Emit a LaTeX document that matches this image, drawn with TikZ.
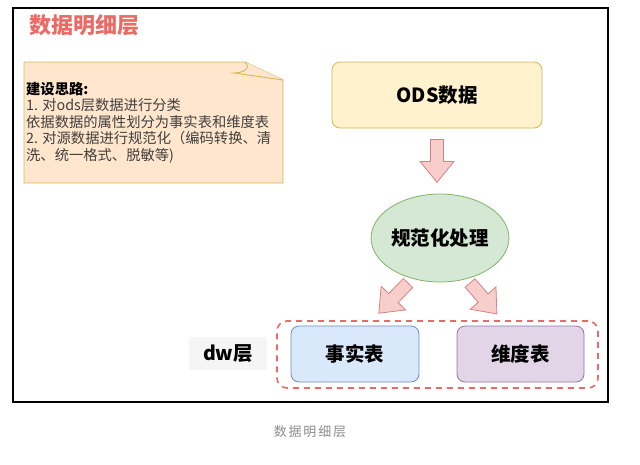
\documentclass[tikz,border=0pt]{standalone}
\usepackage{fontspec}
\setmainfont{Noto Sans CJK SC}
\newfontfamily\capfont[LetterSpace=14]{Noto Sans CJK SC}
\usetikzlibrary{shapes.geometric,calc}
\definecolor{titlered}{RGB}{234,107,102}
\definecolor{notefill}{RGB}{255,230,204}
\definecolor{notedraw}{RGB}{214,182,86}
\definecolor{odsfill}{RGB}{255,242,204}
\definecolor{normfill}{RGB}{213,232,212}
\definecolor{normdraw}{RGB}{130,179,102}
\definecolor{factfill}{RGB}{218,232,252}
\definecolor{factdraw}{RGB}{108,142,191}
\definecolor{dimfill}{RGB}{225,213,231}
\definecolor{dimdraw}{RGB}{150,115,166}
\definecolor{arrowfill}{RGB}{248,206,204}
\definecolor{arrowdraw}{RGB}{212,132,130}
\begin{document}
\begin{tikzpicture}[x=1pt, y=-1pt,
		box/.style={draw, rounded corners=8pt, line width=0.8pt, inner sep=0pt, font=\fontsize{19.5}{19.5}\selectfont\bfseries},
		blockarrow/.style={fill=arrowfill, draw=arrowdraw, line width=0.8pt, line join=miter}]
			\useasboundingbox (0,0) rectangle (640,464);
			\draw[black, line width=1.2pt] (13,8) rectangle (608,402);
			\node[text=titlered, font=\fontsize{22}{22}\selectfont\bfseries] (title) at (84,25) {数据明细层};
			
			% note
			\filldraw[fill=notefill, draw=notedraw, line width=0.9pt] (24,62) -- (245,62) -- (283,80) -- (283,183) -- (24,183) -- cycle;
			\filldraw[fill=notefill, draw=notedraw, line width=0.9pt] (245,62) .. controls (252,69) and (242,73) .. (234,73) -- (283,80);
			\node[anchor=north west, inner sep=0pt, align=left, font=\fontsize{14.3}{16.4}\selectfont] (note) at (26,82)
				{\textbf{建设思路:}\\
				\color{black!75}1. 对ods层数据进行分类\\
				\color{black!75}依据数据的属性划分为事实表和维度表\\
				\color{black!75}2. 对源数据进行规范化（编码转换、清\\
				\color{black!75}洗、统一格式、脱敏等)};
			
			\node[box, fill=odsfill, draw=notedraw, minimum width=210pt, minimum height=66pt] (ods) at (437,95) {ODS数据};
			\node[box, ellipse, fill=normfill, draw=normdraw, minimum width=134pt, minimum height=88pt] (norm) at (440,238) {规范化处理};
			
			% dw layer
			\node[draw=titlered, dashed, dash pattern=on 6pt off 5pt, line width=1.6pt, rounded corners=10pt, minimum width=321pt, minimum height=67pt] (layer) at (437.5,354.5) {};
			\node[box, fill=factfill, draw=factdraw, minimum width=128pt, minimum height=56pt] (fact) at (355,354) {事实表};
			\node[box, fill=dimfill, draw=dimdraw, minimum width=127pt, minimum height=56pt] (dim) at (520.5,354) {维度表};
			\node[fill=black!4, minimum width=78pt, minimum height=33pt, inner sep=0pt, font=\fontsize{19.5}{19.5}\selectfont\bfseries] (dw) at (228,353.5) {dw层};
			
			% arrows
			\begin{scope}[shift={($(ods.south)+(0,11)$)}, rotate=-90]
				\filldraw[blockarrow] (0,-6.5) -- (22,-6.5) -- (22,-17) -- (43,0) -- (22,17) -- (22,6.5) -- (0,6.5) -- cycle;
			\end{scope}
			\begin{scope}[shift={(408,283)}, rotate=-134]
				\filldraw[blockarrow] (0,-6.5) -- (21,-6.5) -- (21,-17) -- (42,0) -- (21,17) -- (21,6.5) -- (0,6.5) -- cycle;
			\end{scope}
			\begin{scope}[shift={(470,283)}, rotate=-49]
				\filldraw[blockarrow] (0,-6.5) -- (20,-6.5) -- (20,-17) -- (41,0) -- (20,17) -- (20,6.5) -- (0,6.5) -- cycle;
			\end{scope}
			
			\node[text=black!45, font=\fontsize{13}{13}\selectfont\capfont] (caption) at (310,432) {数据明细层};
		\end{tikzpicture}
\end{document}
